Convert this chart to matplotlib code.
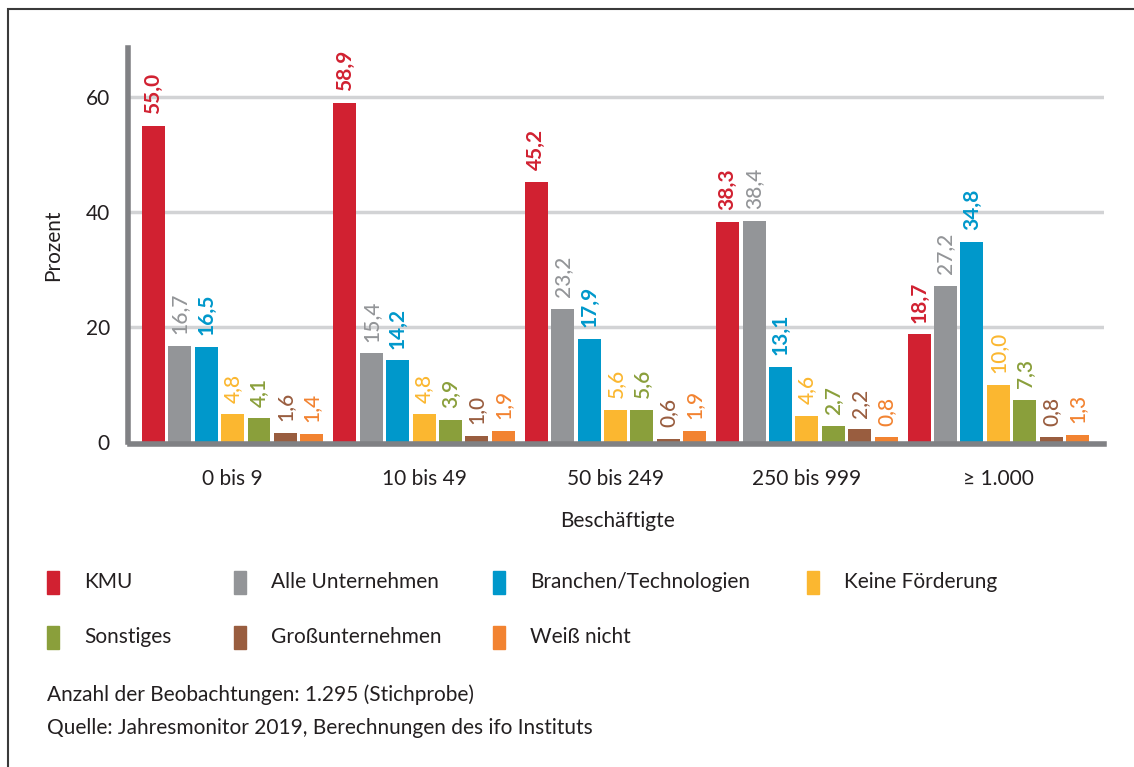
import numpy as np
import matplotlib
matplotlib.use("Agg")
import matplotlib.pyplot as plt
from matplotlib.patches import Rectangle

plt.rcParams['font.family'] = ['Lato', 'DejaVu Sans']

# data
groups = ['0 bis 9', '10 bis 49', '50 bis 249', '250 bis 999', '≥ 1.000']
series_names = ['KMU', 'Alle Unternehmen', 'Branchen/Technologien', 'Keine Förderung',
                'Sonstiges', 'Großunternehmen', 'Weiß nicht']
kmu = [55.0, 58.9, 45.2, 38.3, 18.7]
alle = [16.7, 15.4, 23.2, 38.4, 27.2]
branchen = [16.5, 14.2, 17.9, 13.1, 34.8]
keine = [4.8, 4.8, 5.6, 4.6, 10.0]
sonstiges = [4.1, 3.9, 5.6, 2.7, 7.3]
gross = [1.6, 1.0, 0.6, 2.2, 0.8]
weiss = [1.4, 1.9, 1.9, 0.8, 1.3]
series = [kmu, alle, branchen, keine, sonstiges, gross, weiss]

colors = ['#d12131', '#939598', '#0098cb', '#fbb730', '#8a9f3b', '#995d3f', '#f28331']
weights = ['bold', 'medium', 'bold', 'medium', 'semibold', 'medium', 'medium']
text_col = '#231f20'

fig = plt.figure(figsize=(11.34, 7.67), dpi=100)
ax = fig.add_axes([0.1146, 0.4237, 0.859, 0.5137])

step = 0.138
width = 0.12
x = np.arange(len(groups))
for k, (vals, col, w) in enumerate(zip(series, colors, weights)):
    pos = x + (k - 3) * step
    ax.bar(pos, vals, width=width, color=col, zorder=3)
    for px, v in zip(pos, vals):
        ax.annotate(f'{v:.1f}'.replace('.', ','), xy=(px, v), xytext=(0, 8.5),
                    textcoords='offset points', rotation=90, ha='center', va='bottom',
                    color=col, fontsize=15, fontweight=w)

ax.set_xlim(-0.536, 4.552)
ax.set_ylim(0, 68.5)
for g in [20, 40, 60]:
    ax.axhline(g, color='#d2d3d5', lw=2.5, zorder=1)

for s in ['top', 'right']:
    ax.spines[s].set_visible(False)
# spines pushed out a little so thin bars (0,6) stay visible
for s in ['left', 'bottom']:
    ax.spines[s].set_color('#808184')
    ax.spines[s].set_linewidth(4)
    ax.spines[s].set_position(('outward', 1.5))
ax.spines['bottom'].set_zorder(4)

ax.set_yticks([0, 20, 40, 60])
ax.set_xticks(x)
ax.set_xticklabels(groups)
ax.tick_params(axis='both', length=0, labelsize=15, colors=text_col)
ax.tick_params(axis='y', pad=13)
ax.tick_params(axis='x', pad=18)
ax.set_xlabel('Beschäftigte', fontsize=15, color=text_col, labelpad=16)
ax.set_ylabel('Prozent', fontsize=15, color=text_col, labelpad=16)

# legend, drawn by hand in figure pixels
W, H = 1134, 767
leg_pos = [(47, 582), (234, 582), (493, 582), (807, 582),
           (47, 637), (234, 637), (493, 637)]
for (lx, ly), name, col in zip(leg_pos, series_names, colors):
    fig.patches.append(Rectangle((lx / W, 1 - (ly + 11.5) / H), 12 / W, 23 / H,
                                 transform=fig.transFigure, color=col))
    fig.text((lx + 37) / W, 1 - ly / H, name, fontsize=15, color=text_col,
             ha='left', va='center')

fig.text(47 / W, 1 - 695 / H, 'Anzahl der Beobachtungen: 1.295 (Stichprobe)',
         fontsize=15, color=text_col, va='center')
fig.text(47 / W, 1 - 728 / H, 'Quelle: Jahresmonitor 2019, Berechnungen des ifo Instituts',
         fontsize=15, color=text_col, va='center')

# outer frame
fig.patches.append(Rectangle((8 / W, -0.1), 1.2, 1 - 8.5 / H + 0.1,
                             transform=fig.transFigure, fill=False,
                             edgecolor='#3a3a3a', lw=1.5))

fig.savefig('out.png', dpi=100)
